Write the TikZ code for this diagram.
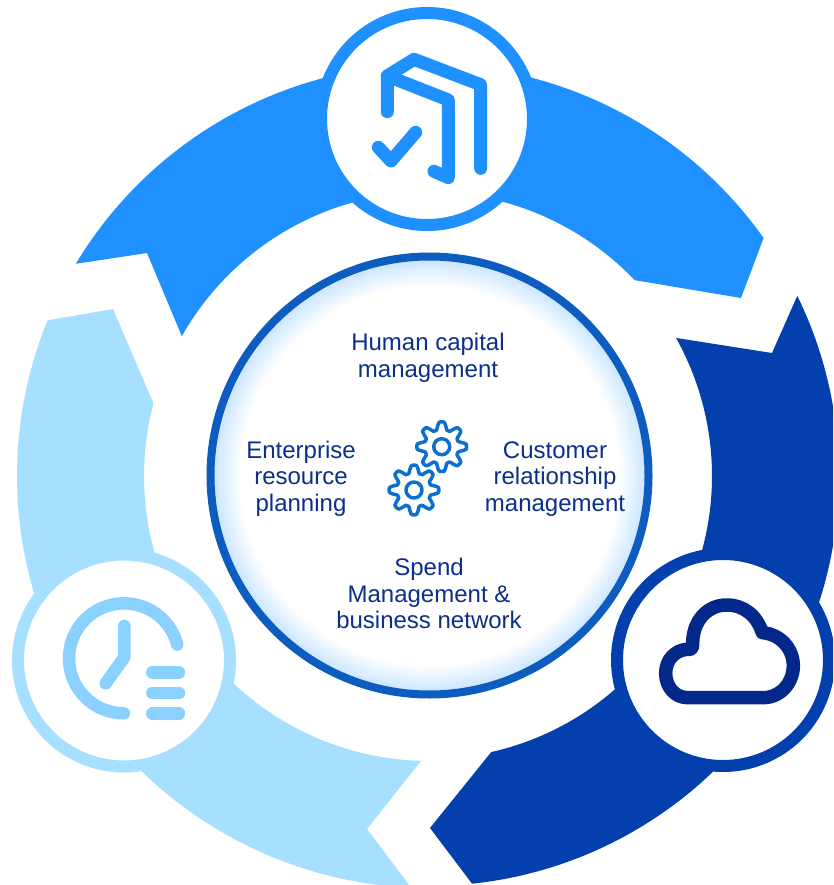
\documentclass[tikz,border=0pt]{standalone}
\usepackage{fontspec}
\setmainfont{Liberation Sans}
\usetikzlibrary{calc}
\definecolor{cBlue}{HTML}{1E90FF}
\definecolor{cDark}{HTML}{033FAD}
\definecolor{cLight}{HTML}{A6DFFF}
\definecolor{cClock}{HTML}{8AD1FF}
\definecolor{cCloud}{HTML}{03288A}
\definecolor{cRim}{HTML}{0D5CBF}
\definecolor{cText}{HTML}{0B2F8A}
\definecolor{cGear}{HTML}{0B6FD0}
\definecolor{cGlow}{HTML}{C2E2FF}
\pgfdeclareradialshading{hubglow}{\pgfpoint{0bp}{0bp}}{color(0bp)=(white); color(21.5bp)=(white); color(25bp)=(cGlow); color(50bp)=(cGlow)}
\tikzset{
  iconring/.style={draw=#1,fill=white,line width=12pt},
  lbl/.style={text=cText,font=\fontsize{24}{26.5}\selectfont,align=center,inner sep=0pt},
  iconline/.style={line width=#1,line cap=round,line join=round},
  gearline/.style={draw=cGear,line width=3.5pt,line join=round},
}
\begin{document}
\begin{tikzpicture}[x=1pt,y=-1pt]
\useasboundingbox (0,0) rectangle (833,885);
\clip (0,0) rectangle (833,885);
\fill[white] (0,0) rectangle (833,885);
\coordinate (c) at (429,476);
% ring segments
\fill[cBlue] ($(c)+(211:412)$) arc[start angle=211,end angle=324.7,radius=411]
  -- (741,298) -- ($(c)+(316.4:284)$) arc[start angle=316.4,end angle=209.5,radius=284]
  -- (147,253) -- cycle;
\fill[cDark] ($(c)+(-26.07:410)$) arc[start angle=-26.07,end angle=83.97,radius=410]
  -- (430,828) -- ($(c)+(77.3:283)$) arc[start angle=77.3,end angle=-29.2,radius=283]
  -- (772,353) -- cycle;
\fill[cLight] ($(c)+(202.2:412)$) arc[start angle=202.2,end angle=92.5,radius=412]
  -- (367,829) -- ($(c)+(91.6:285)$) arc[start angle=91.6,end angle=194.8,radius=285]
  -- (113,309) -- cycle;
% icon discs
\draw[iconring=cBlue] (427,119) circle[radius=106];
\draw[iconring=cLight] (124,660.5) circle[radius=106];
\draw[iconring=cDark] (723,660) circle[radius=106];
% hub
\shade[shading=hubglow] (429.5,475.5) circle[radius=220];
\draw[cRim,line width=8pt] (429.5,475.5) circle[radius=219];
% book icon
\begin{scope}[shift={(310,0)},x=0.3333pt,y=-0.3333pt]
\draw[cBlue,iconline=13pt] (232,335) -- (232,228) -- (312,178) -- (512,254) -- (512,505);
\draw[cBlue,iconline=13pt] (232,228) -- (415,300) -- (415,533) -- (372,514);
\draw[cBlue,iconline=13pt] (205,442) -- (243,483) -- (317,397);
\end{scope}
% clock icon
\begin{scope}[shift={(0,540)},x=0.3333pt,y=-0.3333pt]
\draw[cClock,iconline=12.5pt] (372,520) arc[start angle=90,end angle=345.5,radius=165];
\draw[cClock,iconline=12.5pt] (373,258) -- (373,352) -- (317,430);
\draw[cClock,iconline=12.5pt] (457,397) -- (537,397);
\draw[cClock,iconline=12.5pt] (457,459) -- (537,459);
\draw[cClock,iconline=12.5pt] (457,521) -- (537,521);
\end{scope}
% cloud icon
\begin{scope}[shift={(600,540)},x=0.3333pt,y=-0.3333pt]
\draw[cCloud,iconline=13.5pt] (262,473) -- (490,473)
  .. controls (540,473) and (580,430) .. (580,377)
  .. controls (580,325) and (540,282) .. (487,278)
  .. controls (470,225) and (430,195) .. (380,195)
  .. controls (320,195) and (278,245) .. (278,310)
  .. controls (278,325) and (275,330) .. (262,328)
  .. controls (225,330) and (197,360) .. (197,400)
  .. controls (197,440) and (225,473) .. (262,473) -- cycle;
\end{scope}
% gears
\foreach \gx/\gy in {441.7/446.7,414/490}{
  \begin{scope}[shift={(\gx,\gy)}]
  \draw[gearline] plot[domain=0:360,samples=121,smooth] (\x:{21+3.8*max(-1,min(1,1.4*cos(8*\x)))}) -- cycle;
  \draw[gearline] (0,0) circle[radius=8];
  \end{scope}
}
% labels
\node[lbl] (hcm) at (428,358) {Human capital\\management};
\node[lbl] (erp) at (301,478.5) {Enterprise\\resource\\planning};
\node[lbl] (crm) at (555,479) {Customer\\relationship\\management};
\node[lbl] (spend) at (429,593.5) {Spend\\Management \&\\business network};
\end{tikzpicture}
\end{document}
